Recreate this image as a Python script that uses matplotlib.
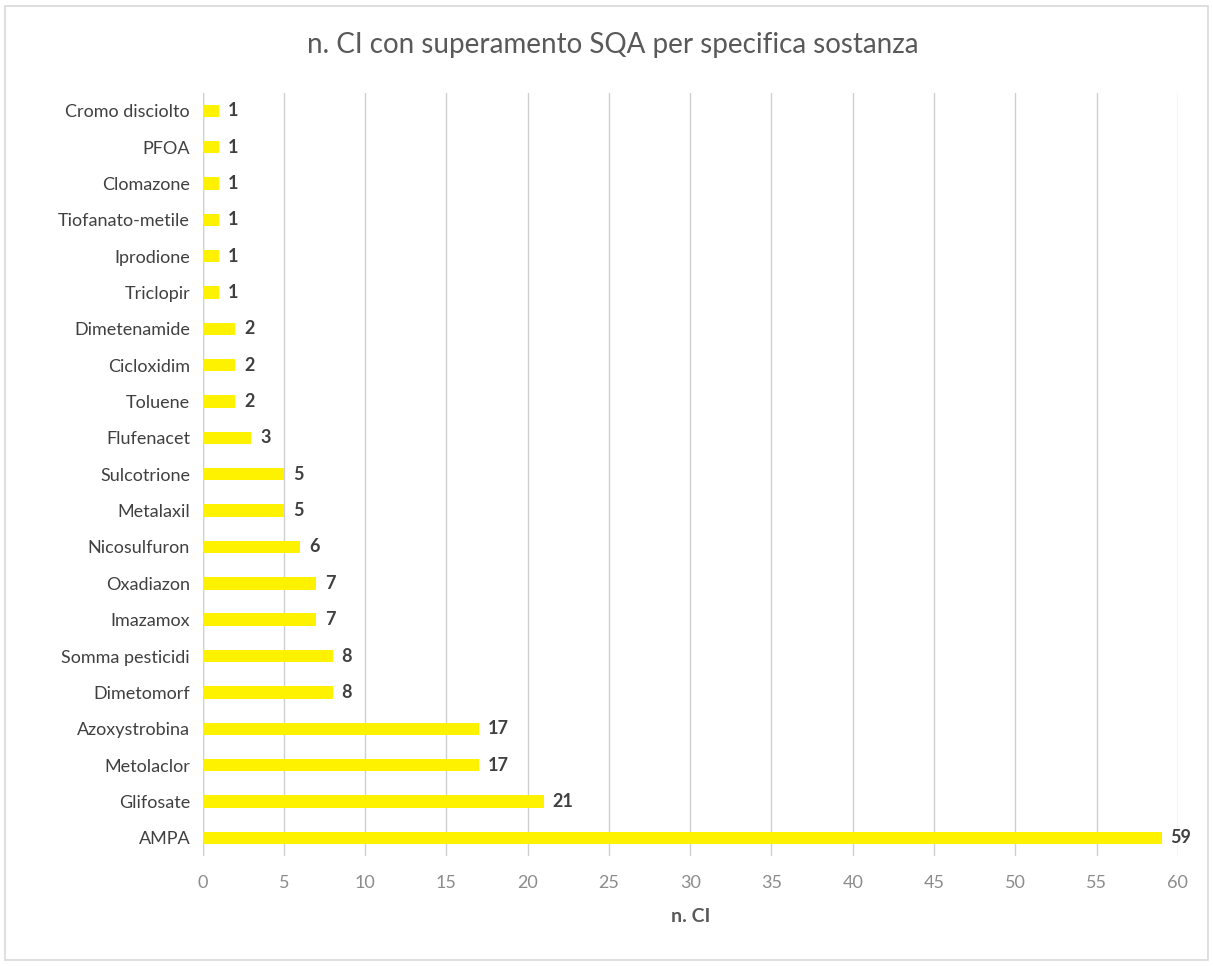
import matplotlib.pyplot as plt
from matplotlib.patches import Rectangle

plt.rcParams['font.family'] = ['Liberation Sans Narrow', 'Lato', 'DejaVu Sans']

substances = ['AMPA', 'Glifosate', 'Metolaclor', 'Azoxystrobina', 'Dimetomorf',
              'Somma pesticidi', 'Imazamox', 'Oxadiazon', 'Nicosulfuron', 'Metalaxil',
              'Sulcotrione', 'Flufenacet', 'Toluene', 'Cicloxidim', 'Dimetenamide',
              'Triclopir', 'Iprodione', 'Tiofanato-metile', 'Clomazone', 'PFOA',
              'Cromo disciolto']
counts = [59, 21, 17, 17, 8, 8, 7, 7, 6, 5, 5, 3, 2, 2, 2, 1, 1, 1, 1, 1, 1]

fig = plt.figure(figsize=(12.13, 9.66), dpi=100)
ax = fig.add_axes([0.167, 0.114, 0.804, 0.790])

y = range(len(substances))
ax.barh(y, counts, height=0.34, color='#FFF200', zorder=3)
for yi, v in zip(y, counts):
    ax.text(v + 0.55, yi, str(v), va='center', ha='left', fontsize=13,
            fontweight='bold', color='#404040')

ax.set_yticks(list(y))
ax.set_yticklabels(substances, fontsize=13, color='#404040')
ax.set_ylim(-0.5, len(substances) - 0.5)
ax.set_xlim(0, 60)
ax.set_xticks(range(0, 61, 5))
ax.tick_params(axis='x', labelsize=13, colors='#8c8c8c', length=0, pad=14)
ax.tick_params(axis='y', length=0, pad=9)
ax.grid(axis='x', color='#cfcfcf', linewidth=1, zorder=0)
for s in ax.spines.values():
    s.set_visible(False)
ax.axvline(0, color='#cfcfcf', linewidth=1, zorder=1)

ax.set_xlabel('n. CI', fontsize=14, fontweight='bold', color='#595959', labelpad=12)
fig.text(0.505, 0.953, 'n. CI con superamento SQA per specifica sostanza',
         ha='center', va='center', fontsize=20, color='#595959')

fig.patches.append(Rectangle((0.004, 0.006), 0.992, 0.988, transform=fig.transFigure,
                             fill=False, edgecolor='#d9d9d9', linewidth=1.2))

fig.savefig('out.png', dpi=100)
